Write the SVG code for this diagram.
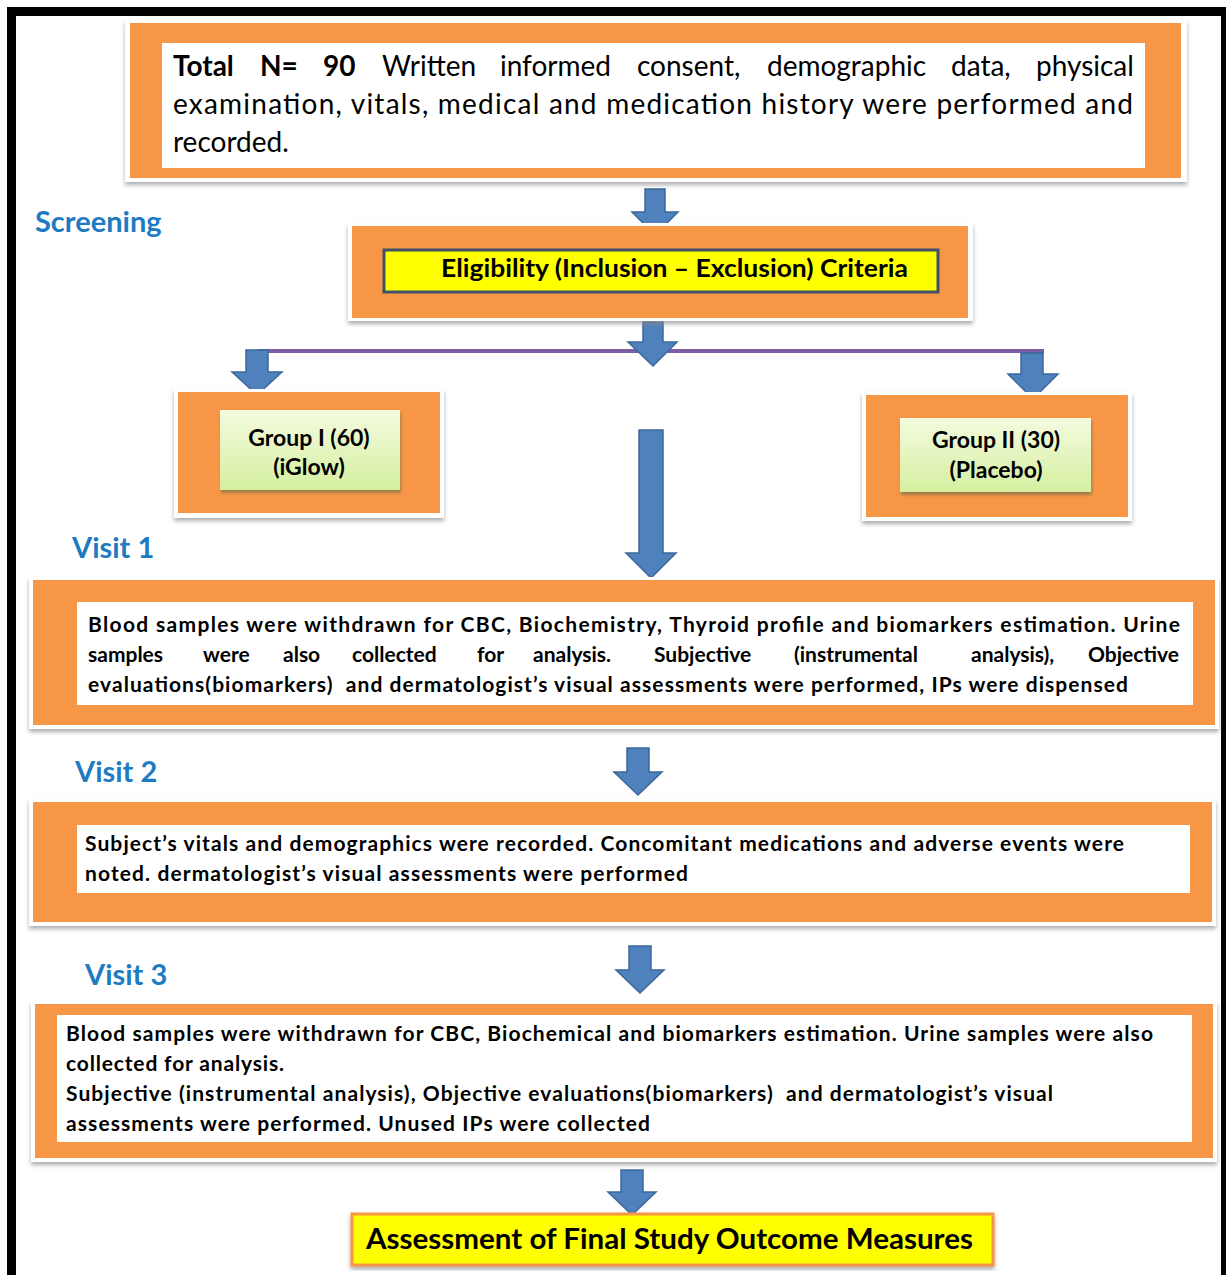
<svg xmlns="http://www.w3.org/2000/svg" width="1226" height="1275" viewBox="0 0 1226 1275">
<defs>
<filter id="sh" x="-5%" y="-5%" width="110%" height="115%">
<feDropShadow dx="0" dy="3" stdDeviation="2" flood-color="#8a8a8a" flood-opacity="0.7"/>
</filter>
<filter id="sh2" x="-5%" y="-5%" width="115%" height="120%">
<feDropShadow dx="1" dy="3" stdDeviation="1.5" flood-color="#6b6b4a" flood-opacity="0.6"/>
</filter>
<linearGradient id="grn" x1="0" y1="0" x2="0" y2="1">
<stop offset="0" stop-color="#F4FBDF"/>
<stop offset="1" stop-color="#D5EFA0"/>
</linearGradient>
</defs>
<style>
.rim{fill:#ffffff;filter:url(#sh)}
.org{fill:#F79646}
.wht{fill:#ffffff}
.arr{fill:#4F81BD;stroke:#3B679A;stroke-width:1.5}
.hd{font-family:Lato,"Liberation Sans",sans-serif;font-weight:bold;font-size:29px;fill:#1F7BC1}
.t1{font-family:Lato,"Liberation Sans",sans-serif;font-size:28px;fill:#000}
.tb{font-family:Lato,"Liberation Sans",sans-serif;font-weight:bold;font-size:21px;fill:#000}
.tg{font-family:Lato,"Liberation Sans",sans-serif;font-weight:bold;font-size:23px;fill:#000;text-anchor:middle}
</style>
<rect x="11.5" y="11.5" width="1214" height="1300" fill="#ffffff" stroke="#000000" stroke-width="9"/>

<g id="connectors">
<path class="arr" d="M645,189 H665 V212 H678 L655,235 L632,212 H645 Z"/>
<line x1="258" y1="351" x2="1044" y2="351" stroke="#7B5EA3" stroke-width="4"/>
<path class="arr" d="M643,322 H663 V342 H677 L653,366 L628,342 H643 Z"/>
<path class="arr" d="M246,350 H268 V372 H282 L257,395 L232,372 H246 Z"/>
<path class="arr" d="M1021,353 H1043 V374 H1058 L1033,399 L1008,374 H1021 Z"/>
<path class="arr" d="M639,430 H663 V553 H676 L651,578 L626,553 H639 Z"/>
<path class="arr" d="M627,748 H649 V772 H662 L638,795 L614,772 H627 Z"/>
<path class="arr" d="M629,946 H651 V970 H664 L640,993 L616,970 H629 Z"/>
<path class="arr" d="M621,1170 H643 V1192 H656 L632,1215 L608,1192 H621 Z"/>
</g>

<g id="total">
<rect class="rim" x="125" y="20" width="1062" height="162"/>
<rect class="org" x="130" y="23" width="1051" height="155"/>
<rect class="wht" x="162" y="43" width="983" height="125"/>
<text class="t1" x="173" y="76"><tspan font-weight="bold">Total</tspan><tspan x="260" font-weight="bold">N=</tspan><tspan x="323" font-weight="bold">90</tspan><tspan x="382">Written</tspan><tspan x="500">informed</tspan><tspan x="637">consent,</tspan><tspan x="767">demographic</tspan><tspan x="951">data,</tspan><tspan x="1036">physical</tspan></text>
<text class="t1" x="173" y="114" textLength="960" lengthAdjust="spacing">examination, vitals, medical and medication history were performed and</text>
<text class="t1" x="173" y="152">recorded.</text>
</g>

<text class="hd" x="35" y="232">Screening</text>

<g id="eligibility">
<rect class="rim" x="348" y="223" width="625" height="98"/>
<rect class="org" x="352" y="226" width="616" height="92"/>
<rect x="384" y="250" width="554" height="42" fill="#FFFF00" stroke="#3E5166" stroke-width="3"/>
<text x="441" y="277" font-family="Lato,'Liberation Sans',sans-serif" font-weight="bold" font-size="24" textLength="467" lengthAdjust="spacingAndGlyphs">Eligibility (Inclusion – Exclusion) Criteria</text>
</g>

<g id="group1">
<rect class="rim" x="174" y="389" width="270" height="129"/>
<rect class="org" x="178" y="392" width="262" height="121"/>
<rect x="220" y="410" width="180" height="80" fill="url(#grn)" filter="url(#sh2)"/>
<text class="tg" x="309" y="446">Group I (60)</text>
<text class="tg" x="309" y="475">(iGlow)</text>
</g>

<g id="group2">
<rect class="rim" x="862" y="392" width="270" height="129"/>
<rect class="org" x="866" y="395" width="262" height="122"/>
<rect x="900" y="418" width="191" height="74" fill="url(#grn)" filter="url(#sh2)"/>
<text class="tg" x="996" y="448">Group II (30)</text>
<text class="tg" x="996" y="478">(Placebo)</text>
</g>

<text class="hd" x="72" y="558">Visit 1</text>

<g id="visit1">
<rect class="rim" x="29" y="577" width="1190" height="152"/>
<rect class="org" x="33" y="580" width="1182" height="145"/>
<rect class="wht" x="77" y="602" width="1116" height="103"/>
<text class="tb" x="88" y="632" textLength="1092" lengthAdjust="spacing">Blood samples were withdrawn for CBC, Biochemistry, Thyroid profile and biomarkers estimation. Urine</text>
<text class="tb" x="88" y="662"><tspan x="88">samples</tspan><tspan x="203">were</tspan><tspan x="283">also</tspan><tspan x="352">collected</tspan><tspan x="477">for</tspan><tspan x="533">analysis.</tspan><tspan x="654">Subjective</tspan><tspan x="794">(instrumental</tspan><tspan x="971">analysis),</tspan><tspan x="1088">Objective</tspan></text>
<text class="tb" x="88" y="692" textLength="1040" lengthAdjust="spacing">evaluations(biomarkers)&#160; and dermatologist’s visual assessments were performed, IPs were dispensed</text>
</g>

<text class="hd" x="75" y="782">Visit 2</text>

<g id="visit2">
<rect class="rim" x="29" y="799" width="1187" height="127"/>
<rect class="org" x="33" y="802" width="1179" height="120"/>
<rect class="wht" x="77" y="825" width="1113" height="68"/>
<text class="tb" x="85" y="851" textLength="1039" lengthAdjust="spacing">Subject’s vitals and demographics were recorded. Concomitant medications and adverse events were</text>
<text class="tb" x="85" y="881" textLength="603" lengthAdjust="spacing">noted. dermatologist’s visual assessments were performed</text>
</g>

<text class="hd" x="85" y="985">Visit 3</text>

<g id="visit3">
<rect class="rim" x="31" y="1001" width="1186" height="161"/>
<rect class="org" x="35" y="1004" width="1178" height="154"/>
<rect class="wht" x="57" y="1015" width="1135" height="127"/>
<text class="tb" x="66" y="1041" textLength="1087" lengthAdjust="spacing">Blood samples were withdrawn for CBC, Biochemical and biomarkers estimation. Urine samples were also</text>
<text class="tb" x="66" y="1071" textLength="218" lengthAdjust="spacing">collected for analysis.</text>
<text class="tb" x="66" y="1101" textLength="987" lengthAdjust="spacing">Subjective (instrumental analysis), Objective evaluations(biomarkers)&#160; and dermatologist’s visual</text>
<text class="tb" x="66" y="1131" textLength="584" lengthAdjust="spacing">assessments were performed. Unused IPs were collected</text>
</g>

<g id="final">
<rect x="352" y="1214" width="641" height="51" fill="#FFFF00" stroke="#F79646" stroke-width="3" filter="url(#sh)"/>
<text x="366" y="1249" font-family="Lato,'Liberation Sans',sans-serif" font-weight="bold" font-size="28" textLength="607" lengthAdjust="spacingAndGlyphs">Assessment of Final Study Outcome Measures</text>
</g>
</svg>
